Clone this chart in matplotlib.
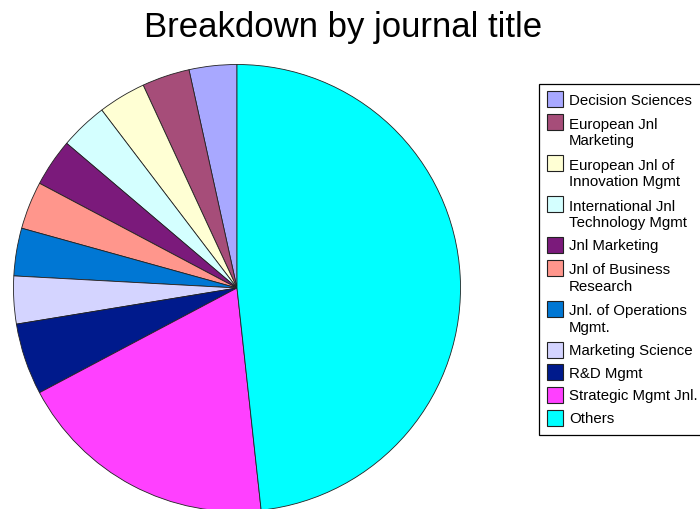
import matplotlib
matplotlib.use("Agg")
import matplotlib.pyplot as plt
from matplotlib.patches import Rectangle

title = "Breakdown by journal title"
labels = ["Decision Sciences", "European Jnl\nMarketing", "European Jnl of\nInnovation Mgmt",
          "International Jnl\nTechnology Mgmt", "Jnl Marketing", "Jnl of Business\nResearch",
          "Jnl. of Operations\nMgmt.", "Marketing Science", "R&D Mgmt", "Strategic Mgmt Jnl.", "Others"]
values = [2, 2, 2, 2, 2, 2, 2, 2, 3, 11, 28]
colors = ["#A8A8FF", "#A64D79", "#FFFFD4", "#D4FFFF", "#7B1A7B", "#FF968C",
          "#0077D4", "#D4D4FF", "#001A8C", "#FF40FF", "#00FFFF"]

W, H = 700, 509
fig = plt.figure(figsize=(W / 100, H / 100), dpi=100)
FONT = "Liberation Sans"

# pie axes placed in pixels
cx, cy, R = 237, 288, 223.5
ax = fig.add_axes([(cx - R) / W, (H - cy - R) / H, 2 * R / W, 2 * R / H])
ax.pie(values, colors=colors, startangle=90, counterclock=True,
       wedgeprops=dict(edgecolor="#222222", linewidth=0.6))
ax.set_xlim(-1, 1)
ax.set_ylim(-1, 1)
ax.set_axis_off()
for p in ax.patches:
    p.set_clip_on(False)

fig.text(343 / W, 1 - 36.7 / H, title, ha="center", va="baseline",
         fontsize=25, family=FONT)

# legend drawn manually
def fx(x):
    return x / W

def fy(y):
    return 1 - y / H

box = Rectangle((fx(539), fy(435)), fx(710) - fx(539), fy(84) - fy(435),
                transform=fig.transFigure, facecolor="white", edgecolor="black",
                linewidth=0.9, clip_on=False)
fig.add_artist(box)

LS = 17.8
y = 99.3
for lab, col in zip(labels, colors):
    nlines = lab.count("\n") + 1
    sq = Rectangle((fx(547), fy(y + 8)), fx(16), 16 / H, transform=fig.transFigure,
                   facecolor=col, edgecolor="#222222", linewidth=0.8)
    fig.add_artist(sq)
    fig.text(fx(569), fy(y + 5.3 + (nlines - 1) * LS), lab, ha="left", va="baseline",
             fontsize=10.8, family=FONT, linespacing=1.22)
    y += 22.7 if nlines == 1 else 41.0

fig.savefig("out.png", dpi=100)
